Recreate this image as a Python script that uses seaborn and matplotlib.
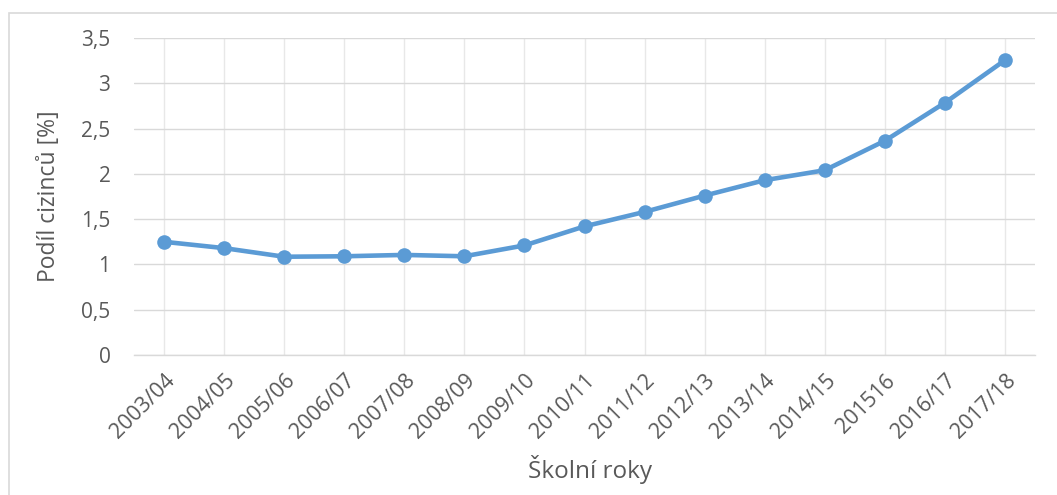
import matplotlib
matplotlib.use("Agg")
import matplotlib.pyplot as plt
import matplotlib.patches as mpatches
import pandas as pd
import seaborn as sns

# === Data ===
skolni_roky = ["2003/04", "2004/05", "2005/06", "2006/07", "2007/08", "2008/09",
               "2009/10", "2010/11", "2011/12", "2012/13", "2013/14", "2014/15",
               "201516", "2016/17", "2017/18"]
podil_cizincu = [1.25, 1.18, 1.085, 1.09, 1.105, 1.09, 1.21, 1.42, 1.58, 1.76,
                 1.93, 2.04, 2.365, 2.785, 3.255]
y_ticks = [0, 0.5, 1, 1.5, 2, 2.5, 3, 3.5]
y_tick_labels = ["0", "0,5", "1", "1,5", "2", "2,5", "3", "3,5"]

df = pd.DataFrame({"rok": skolni_roky, "podil": podil_cizincu})
df["pos"] = range(len(df))

sns.set_style("white")
plt.rcParams["font.family"] = ["Open Sans", "DejaVu Sans"]

text_color = "#595959"
grid_color = "#D9D9D9"
vgrid_color = "#E8E8E8"
line_color = "#5B9BD5"

fig = plt.figure(figsize=(10.57, 4.95), dpi=100)
ax = fig.add_axes([134 / 1057, 1 - 355 / 495, (1035 - 134) / 1057, (355 - 38) / 495])

sns.lineplot(data=df, x="pos", y="podil", ax=ax, color=line_color, linewidth=3.3,
             marker="o", markersize=10.5, markeredgewidth=0, sort=False, zorder=3)

ax.set_xlim(-0.5, len(skolni_roky) - 0.5)
ax.set_ylim(0, 3.5)
ax.set_xticks(df["pos"])
ax.set_xticklabels(skolni_roky, rotation=45, ha="right", rotation_mode="anchor",
                   fontsize=15.5, color=text_color)
ax.set_yticks(y_ticks)
ax.set_yticklabels(y_tick_labels, fontsize=15, color=text_color)
ax.tick_params(axis="both", length=0)
ax.tick_params(axis="x", pad=11)
ax.tick_params(axis="y", pad=17)

ax.grid(True, axis="y", color=grid_color, linewidth=1)
ax.grid(True, axis="x", color=vgrid_color, linewidth=1)
ax.set_axisbelow(True)
for s in ["top", "right", "left"]:
    ax.spines[s].set_visible(False)
ax.spines["bottom"].set_color(grid_color)
ax.spines["bottom"].set_linewidth(1)

ax.set_xlabel("Školní roky", fontsize=17.5, color=text_color)
ax.set_ylabel("Podíl cizinců [%]", fontsize=16.5, color=text_color)
ax.xaxis.set_label_coords((590 - 134) / (1035 - 134), -(455 - 355) / (355 - 38))
ax.yaxis.set_label_coords(-(134 - 61) / (1035 - 134), 0.5)

# chart area border
fig.patches.append(mpatches.Rectangle((9 / 1057, -0.05), 1.1, 1 - 13 / 495 + 0.05,
                                      transform=fig.transFigure, fill=False,
                                      edgecolor=grid_color, linewidth=1.2))

fig.savefig("out.png", dpi=100)
